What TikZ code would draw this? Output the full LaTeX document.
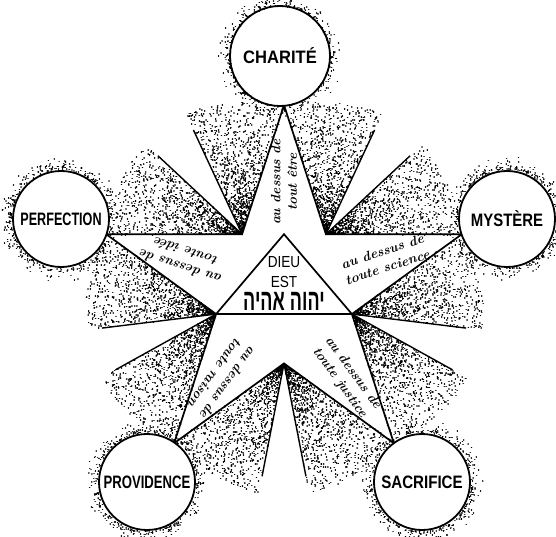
\documentclass[tikz,border=0pt]{standalone}
\usepackage{fontspec}
\usepackage{graphicx}
\TeXXeTstate=1
\newfontfamily\labfont{Liberation Sans}
\newfontfamily\hebfont[Script=Hebrew]{Liberation Sans}
\newcommand{\narrow}[2]{\scalebox{#1}[1]{#2}}

\begin{document}
\begin{tikzpicture}[x=1pt,y=1pt,
  place/.style={circle, draw, line width=1.8pt, fill=white, minimum size=96pt, inner sep=0pt,
    font=\labfont\bfseries\fontsize{18}{18}\selectfont},
  inscription/.style={inner sep=0pt, font=\labfont\fontsize{16}{16}\selectfont},
  motto/.style={align=center, inner sep=0pt, font=\itshape\bfseries\fontsize{13.5}{16.5}\selectfont},
  starline/.style={line width=1.7pt, line join=miter},
  rayline/.style={line width=1.4pt},
  stipple/.style={line width=1.6pt, line cap=round}]
\useasboundingbox (0,0) rectangle (556,536);
\pgfmathsetseed{11}
\coordinate (o) at (284,244);
% tips and inner corners of the star
\foreach \k in {0,...,4}{
  \coordinate (t\k) at ([shift={({90+72*\k}:187)}]o);
  \coordinate (i\k) at ([shift={({126+72*\k}:71.4)}]o);
}
\coordinate (apex) at ([shift={(90:57.8)}]o);
% stippled fans beside each arm
\foreach \k in {0,...,4}{
  \pgfmathsetmacro{\ang}{126+72*\k}
  \begin{scope}[shift={(i\k)}]
    \draw[stipple] \foreach \n [evaluate=\n as \ta using {\ang-54.5+43.5*rnd},
                       evaluate=\n as \ra using {2+130*rnd}] in {1,...,950}
      { (\ta:\ra) -- ++(0.05,0) };
    \draw[stipple] \foreach \n [evaluate=\n as \ta using {\ang+54.5-43.5*rnd},
                       evaluate=\n as \ra using {2+130*rnd}] in {1,...,950}
      { (\ta:\ra) -- ++(0.05,0) };
  \end{scope}
}
\foreach \k in {0,...,4}{
  \draw[rayline] (i\k) -- ++({126+72*\k-11}:115);
  \draw[rayline] (i\k) -- ++({126+72*\k+11}:115);
}
\draw[starline] (t0) -- (i0) -- (t1) -- (i1) -- (t2) -- (i2) -- (t3) -- (i3) -- (t4) -- (i4) -- cycle;
\draw[starline] (apex) -- (i1) -- (i3) -- cycle;
% the five virtues
\node[place, minimum size=100pt] (charite) at (280,480) {\narrow{0.92}{CHARITÉ}};
\node[place] (perfection) at (61,317) {\narrow{0.70}{PERFECTION}};
\node[place] (mystere) at (507,317) {\narrow{0.83}{MYSTÈRE}};
\node[place] (providence) at (147,54) {\narrow{0.73}{PROVIDENCE}};
\node[place] (sacrifice) at (422,54) {\narrow{0.84}{SACRIFICE}};
\foreach \c in {charite,perfection,mystere,providence,sacrifice}{
  \begin{scope}[shift={(\c.center)}]
    \draw[stipple, line width=1.5pt] \foreach \n [evaluate=\n as \ta using {360*rnd},
                       evaluate=\n as \ra using {49.5+14*rnd*rnd}] in {1,...,380}
      { (\ta:\ra) -- ++(0.05,0) };
  \end{scope}
}
% centre
\node[inscription] (dieu) at ([shift={(0,30)}]o) {\narrow{0.85}{DIEU}};
\node[inscription] (est) at ([shift={(0,10)}]o) {\narrow{0.85}{EST}};
\node[inner sep=0pt, font=\hebfont\bfseries\fontsize{30}{30}\selectfont] (nom) at ([shift={(0,-9)}]o) {\narrow{0.6}{\beginR יהוה אהיה\endR}};
% arms
\node[motto, rotate=90] (mottoCharite) at ([shift={(90:110)}]o) {au dessus de\\tout être};
\node[motto, rotate=162] (mottoPerfection) at ([shift={(162:106)}]o) {au dessus de\\toute idée};
\node[motto, rotate=18] (mottoMystere) at ([shift={(18:106)}]o) {au dessus de\\toute science};
\node[motto, rotate=234] (mottoProvidence) at ([shift={(234:106)}]o) {au dessus de\\toute raison};
\node[motto, rotate=306] (mottoSacrifice) at ([shift={(306:106)}]o) {au dessus de\\toute justice};
\end{tikzpicture}
\end{document}
